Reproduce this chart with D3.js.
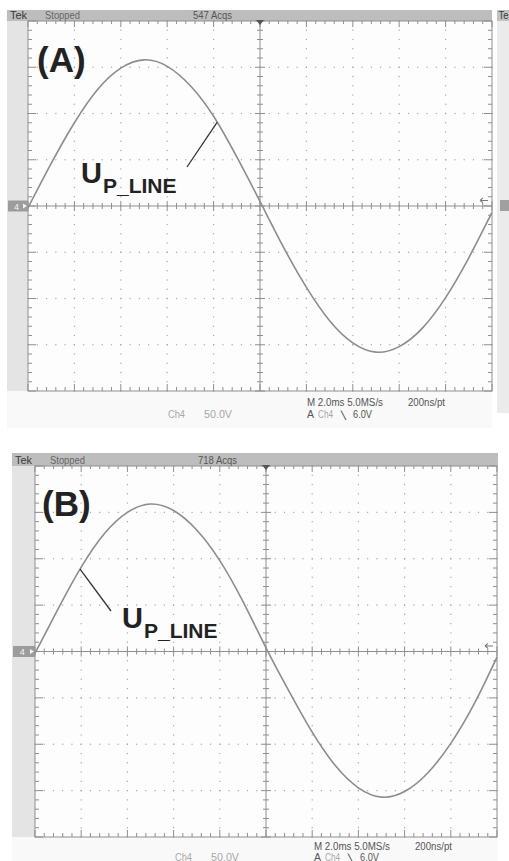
<!DOCTYPE html>
<html>
<head>
<meta charset="utf-8">
<script src="https://cdn.jsdelivr.net/npm/d3@7/dist/d3.min.js"></script>
<style>
  body { margin: 0; background: #ffffff; }
  svg { display: block; }
  .hud { font-family: "Liberation Sans", Arial, sans-serif; }
  .lbl { font-family: "Liberation Sans", Arial, sans-serif; font-weight: bold; fill: #222; }
</style>
</head>
<body>
<svg id="chart" width="509" height="861"></svg>
<script>
// Sample times (ms) across the 10-division record (2 ms/div)
const timeMs = [0, 1, 2, 3, 4, 5, 6, 7, 8, 9, 10, 11, 12, 13, 14, 15, 16, 17, 18, 19, 20];

// Channel 4 line voltage (V) for capture (A) and capture (B)
const voltsA = [-2, 46, 90, 126, 149, 158, 151, 130, 97, 53, 5, -44, -88, -124, -148, -158, -152, -132, -99, -56, -7];
const voltsB = [-2, 46, 91, 127, 150, 159, 152, 131, 98, 54, 4, -43, -87, -123, -147, -157, -151, -131, -99, -57, -6];

// Scope settings
const xDivs = 10, yDivs = 8, minorPerDiv = 5;
const timePerDiv = 2;      // ms / div
const voltsPerDiv = 50;    // V / div
const triggerLevel = 6.0;  // V

// On-screen readouts
const headerA = ["Tek", "Stopped", "547 Acqs"];
const headerB = ["Tek", "Stopped", "718 Acqs"];
const readoutChannel = ["Ch4", "50.0V"];
const readoutTimebase = ["M 2.0ms 5.0MS/s", "200ns/pt"];
const readoutTrigger = ["A", "Ch4", "\u2572", "6.0V"];
const panelTitles = ["(A)", "(B)"];
const traceName = ["U", "P_LINE"];

const svg = d3.select("#chart");

// narrow instrument-style text of a fixed width
function hud(g, x, y, size, fill, str, width) {
  const t = g.append("text").attr("class", "hud").attr("x", x).attr("y", y)
    .attr("font-size", size).attr("fill", fill).text(str);
  if (width) t.attr("textLength", width).attr("lengthAdjust", "spacingAndGlyphs");
  return t;
}

function drawScope(p, volts, header, title) {
  const g = svg.append("g");
  const tMax = xDivs * timePerDiv;
  const vMax = yDivs / 2 * voltsPerDiv;
  const x = d3.scaleLinear().domain([0, tMax]).range([p.x0, p.x1]);
  const y = d3.scaleLinear().domain([-vMax, vMax]).range([p.y1, p.y0]);

  // screen body
  g.append("rect").attr("x", p.left).attr("y", p.barTop)
    .attr("width", p.barRight - p.left).attr("height", p.bottom - p.barTop)
    .attr("fill", "#f9f9f9");
  // status bar
  g.append("rect").attr("x", p.left).attr("y", p.barTop)
    .attr("width", p.barRight - p.left).attr("height", p.y0 - p.barTop)
    .attr("fill", "#bdbdbd");
  // left channel strip
  g.append("rect").attr("x", p.left).attr("y", p.y0)
    .attr("width", p.x0 - p.left).attr("height", p.y1 - p.y0)
    .attr("fill", "#e4e4e4");
  // graticule area
  g.append("rect").attr("x", p.x0).attr("y", p.y0)
    .attr("width", p.x1 - p.x0).attr("height", p.y1 - p.y0)
    .attr("fill", "#fdfdfd");

  const minorT = d3.range(0, xDivs * minorPerDiv + 1).map(i => i * timePerDiv / minorPerDiv);
  const minorV = d3.range(0, yDivs * minorPerDiv + 1).map(i => -vMax + i * voltsPerDiv / minorPerDiv);
  const majorT = d3.range(0, xDivs + 1).map(i => i * timePerDiv);
  const majorV = d3.range(0, yDivs + 1).map(i => -vMax + i * voltsPerDiv);

  // dotted division lines
  const dots = [];
  majorT.forEach((t, i) => {
    if (i === 0 || i === xDivs || i === xDivs / 2) return;
    minorV.forEach(v => dots.push([x(t), y(v)]));
  });
  majorV.forEach((v, i) => {
    if (i === 0 || i === yDivs || i === yDivs / 2) return;
    minorT.forEach(t => dots.push([x(t), y(v)]));
  });
  g.append("g").selectAll("rect").data(dots).join("rect")
    .attr("x", d => d[0] - 0.6).attr("y", d => d[1] - 0.6)
    .attr("width", 1.2).attr("height", 1.2).attr("fill", "#a8a8a8");

  // border, centre lines and tick marks
  const segs = [];
  const seg = (a, b, c, d) => segs.push(`M${a},${b}L${c},${d}`);
  seg(x(tMax / 2), p.y0, x(tMax / 2), p.y1);
  seg(p.x0, y(0), p.x1, y(0));
  minorT.forEach((t, i) => {
    const big = i % minorPerDiv === 0;
    seg(x(t), p.y0, x(t), p.y0 + (big ? 6 : 3));
    seg(x(t), p.y1, x(t), p.y1 - (big ? 7 : 4));
    seg(x(t), y(0) - (big ? 5 : 3), x(t), y(0) + (big ? 5 : 3));
  });
  minorV.forEach((v, i) => {
    const big = i % minorPerDiv === 0;
    seg(p.x0, y(v), p.x0 + (big ? 8 : 4), y(v));
    seg(p.x1, y(v), p.x1 - (big ? 8 : 4), y(v));
    seg(x(tMax / 2) - (big ? 5 : 3), y(v), x(tMax / 2) + (big ? 5 : 3), y(v));
  });
  g.append("path").attr("d", segs.join("")).attr("stroke", "#8f8f8f")
    .attr("stroke-width", 1).attr("fill", "none");
  g.append("rect").attr("x", p.x0).attr("y", p.y0)
    .attr("width", p.x1 - p.x0).attr("height", p.y1 - p.y0)
    .attr("fill", "none").attr("stroke", "#8f8f8f").attr("stroke-width", 1);

  // trigger position marker (top) and trigger level marker (right)
  const xc = x(tMax / 2);
  g.append("path").attr("d", `M${xc - 4},${p.y0 - 1}L${xc + 4},${p.y0 - 1}L${xc},${p.y0 + 4}Z`)
    .attr("fill", "#555");
  const yt = y(triggerLevel);
  g.append("path")
    .attr("d", `M${p.x1 - 12},${yt}L${p.x1 - 4},${yt}M${p.x1 - 12},${yt}L${p.x1 - 9},${yt - 2.5}M${p.x1 - 12},${yt}L${p.x1 - 9},${yt + 2.5}`)
    .attr("stroke", "#777").attr("stroke-width", 1.1).attr("fill", "none");

  // channel ground marker
  g.append("rect").attr("x", p.left + 1).attr("y", y(0) - 5.5)
    .attr("width", p.x0 - p.left - 1).attr("height", 11).attr("fill", "#9c9c9c");
  g.append("text").attr("class", "hud").attr("x", p.left + (p.x0 - p.left) * 0.45).attr("y", y(0) + 3.5)
    .attr("font-size", 9).attr("fill", "#f4f4f4").attr("text-anchor", "middle").text("4");
  g.append("path").attr("d", `M${p.x0 - 5},${y(0) - 2.5}L${p.x0 - 1},${y(0)}L${p.x0 - 5},${y(0) + 2.5}Z`)
    .attr("fill", "#f4f4f4");

  // status bar text
  const hy = p.y0 - 2.5;
  hud(g, p.left + 3, hy, 11, "#3a3a3a", header[0], 17);
  hud(g, p.left + 38, hy, 11, "#666", header[1], 35);
  hud(g, p.left + 186, hy, 11, "#555", header[2], 39);

  // waveform
  const line = d3.line().x((d, i) => x(timeMs[i])).y(d => y(d)).curve(d3.curveNatural);
  g.append("path").datum(volts).attr("d", line)
    .attr("fill", "none").attr("stroke", "#8d8d8d").attr("stroke-width", 1.6);

  // bottom readouts
  const r1 = p.y1 + p.row1, r2 = p.y1 + p.row2;
  const xa = p.x0 + 279;
  const fs = p.rowFont;
  hud(g, xa, r1, fs, "#555", readoutTimebase[0], 76);
  hud(g, xa + 101, r1, fs, "#555", readoutTimebase[1], 37);
  hud(g, xa, r2, fs, "#555", readoutTrigger[0], 7);
  hud(g, xa + 11, r2, fs, "#a8a8a8", readoutTrigger[1], 15);
  hud(g, xa + 34, r2, fs - 2.5, "#555", readoutTrigger[2]).attr("font-weight", "bold");
  hud(g, xa + 46, r2, fs, "#555", readoutTrigger[3], 19);
  hud(g, p.x0 + 140, r2, fs, "#a8a8a8", readoutChannel[0], 17);
  hud(g, p.x0 + 176, r2, fs, "#a8a8a8", readoutChannel[1], 28);

  // panel title
  g.append("text").attr("class", "lbl").attr("x", p.titleX).attr("y", p.titleY)
    .attr("font-size", 35).text(title);

  // trace label with leader line to the trace
  const lt = g.append("text").attr("class", "lbl").attr("x", p.nameX).attr("y", p.nameY);
  lt.append("tspan").attr("font-size", 29).text(traceName[0]);
  lt.append("tspan").attr("font-size", 21).attr("dy", 10).attr("dx", 1).text(traceName[1]);
  const t0 = Math.floor(p.leaderT), t1 = Math.ceil(p.leaderT);
  const vAt = d3.interpolateNumber(volts[timeMs.indexOf(t0)], volts[timeMs.indexOf(t1)])(p.leaderT - t0);
  g.append("line")
    .attr("x1", p.leaderX).attr("y1", p.leaderY)
    .attr("x2", x(p.leaderT)).attr("y2", y(vAt))
    .attr("stroke", "#333").attr("stroke-width", 1.3);

  return { x, y };
}

// adjacent capture partly visible at the right of (A)
const frag = svg.append("g");
frag.append("rect").attr("x", 497).attr("y", 10).attr("width", 12).attr("height", 403).attr("fill", "#ebebeb");
frag.append("rect").attr("x", 497).attr("y", 10).attr("width", 12).attr("height", 11).attr("fill", "#c2c2c2");
hud(frag, 498.5, 18.5, 11, "#3a3a3a", "Te", 10);
frag.append("rect").attr("x", 500).attr("y", 200).attr("width", 9).attr("height", 11).attr("fill", "#a0a0a0");

drawScope({
  left: 7, barTop: 10, barRight: 492, bottom: 428,
  x0: 28, x1: 492, y0: 21, y1: 391,
  row1: 15, row2: 27, rowFont: 10,
  titleX: 37, titleY: 72,
  nameX: 81, nameY: 183,
  leaderX: 187, leaderY: 167, leaderT: 8.15
}, voltsA, headerA, panelTitles[0]);

drawScope({
  left: 12, barTop: 453, barRight: 498, bottom: 861,
  x0: 35, x1: 497, y0: 466, y1: 837,
  row1: 12.5, row2: 23.5, rowFont: 10,
  titleX: 42, titleY: 516,
  nameX: 122, nameY: 628,
  leaderX: 111, leaderY: 611, leaderT: 1.95
}, voltsB, headerB, panelTitles[1]);
</script>
</body>
</html>
